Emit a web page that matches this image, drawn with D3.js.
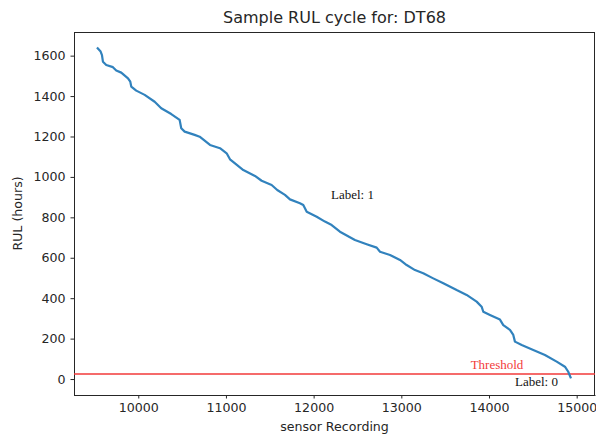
<!DOCTYPE html>
<html>
<head>
<meta charset="utf-8">
<script src="https://cdn.jsdelivr.net/npm/d3@7"></script>
<style>
  body { margin: 0; background: #fff; }
  svg { display: block; }
  .axis text { font-family: "DejaVu Sans", sans-serif; font-size: 12.6px; fill: #262626; }
  .axis path, .axis line { stroke: #262626; }
</style>
</head>
<body>
<div id="chart"></div>
<script>
"use strict"
// sensor recording index (x) and remaining useful life in hours (y)
var recording = [9529, 9571, 9586, 9597, 9635, 9711, 9749, 9806, 9883, 9909, 9920, 9977,
  10073, 10187, 10262, 10376, 10472, 10490, 10529, 10643, 10700, 10818, 10932, 11008,
  11046, 11103, 11198, 11331, 11407, 11521, 11585, 11673, 11730, 11844, 11882, 11921,
  12035, 12129, 12206, 12300, 12471, 12605, 12719, 12757, 12871, 12985, 13061, 13156,
  13250, 13364, 13479, 13631, 13745, 13859, 13916, 13935, 14011, 14125, 14163, 14239,
  14277, 14296, 14373, 14505, 14638, 14772, 14866, 14904, 14935];
var rul = [1640, 1620, 1603, 1570, 1554, 1543, 1526, 1516, 1488, 1471, 1447, 1427,
  1406, 1372, 1340, 1311, 1282, 1241, 1224, 1208, 1199, 1158, 1142, 1117,
  1087, 1067, 1034, 1005, 981, 960, 935, 911, 889, 870, 861, 828,
  803, 779, 762, 729, 688, 667, 650, 630, 614, 589, 564, 539,
  523, 498, 474, 440, 416, 383, 358, 333, 317, 294, 267, 243,
  218, 185, 168, 144, 119, 86, 61, 36, 3];
var xTicks = [10000, 11000, 12000, 13000, 14000, 15000];
var yTicks = [0, 200, 400, 600, 800, 1000, 1200, 1400, 1600];
var threshold = 25;
var title = "Sample RUL cycle for: DT68";

var width = 596, height = 437;
var margin = {top: 32, right: 1, bottom: 42, left: 74};
var drawWidth = width - margin.left - margin.right;
var drawHeight = height - margin.top - margin.bottom;

var xScale = d3.scaleLinear().domain([9267, 15209]).range([0, drawWidth]);
var yScale = d3.scaleLinear().domain([-79, 1717]).range([drawHeight, 0]);

var data = recording.map(function(d, i) { return [d, rul[i]]; });

var svg = d3.select("#chart").append("svg")
    .attr("width", width)
    .attr("height", height);

svg.append("text")
    .attr("x", margin.left + drawWidth / 2)
    .attr("y", 23)
    .attr("text-anchor", "middle")
    .style("font-family", "DejaVu Sans, sans-serif")
    .style("font-size", "16px")
    .style("fill", "#262626")
    .text(title);

var g = svg.append("g")
    .attr("transform", "translate(" + margin.left + "," + margin.top + ")");

// x axis
g.append("g").attr("class", "axis")
    .attr("transform", "translate(0," + drawHeight + ")")
    .call(d3.axisBottom(xScale).tickValues(xTicks).tickSize(3.5).tickPadding(5).tickSizeOuter(0).tickFormat(d3.format("d")));

// y axis
g.append("g").attr("class", "axis")
    .call(d3.axisLeft(yScale).tickValues(yTicks).tickSize(3.5).tickPadding(5).tickSizeOuter(0).tickFormat(d3.format("d")));

// frame
g.append("rect")
    .attr("x", 0.5).attr("y", 0.5)
    .attr("width", drawWidth - 1).attr("height", drawHeight)
    .attr("fill", "none")
    .attr("stroke", "#262626");

// threshold
g.append("line")
    .attr("x1", 0).attr("x2", drawWidth)
    .attr("y1", yScale(threshold)).attr("y2", yScale(threshold))
    .attr("stroke", "#f23a3a")
    .attr("stroke-width", 1.5);

g.append("path")
    .datum(data)
    .attr("fill", "none")
    .attr("stroke", "#3182bd")
    .attr("stroke-width", 2.2)
    .attr("stroke-linejoin", "round")
    .attr("d", d3.line().x(function(d) { return xScale(d[0]); }).y(function(d) { return yScale(d[1]); }));

var serif = "Liberation Serif, Times New Roman, serif";
g.append("text")
    .attr("x", xScale(13791)).attr("y", yScale(48))
    .style("font-family", serif).style("font-size", "13px").style("fill", "#f23a3a")
    .text("Threshold");
g.append("text")
    .attr("x", xScale(14296)).attr("y", yScale(-35))
    .style("font-family", serif).style("font-size", "13px").style("fill", "#111")
    .text("Label: 0");
g.append("text")
    .attr("x", xScale(12198)).attr("y", yScale(891))
    .style("font-family", serif).style("font-size", "13px").style("fill", "#111")
    .text("Label: 1");

// axis titles
svg.append("text")
    .attr("x", margin.left + drawWidth / 2)
    .attr("y", 431)
    .attr("text-anchor", "middle")
    .style("font-family", "DejaVu Sans, sans-serif")
    .style("font-size", "12.6px")
    .style("fill", "#262626")
    .text("sensor Recording");

svg.append("text")
    .attr("transform", "translate(22," + (margin.top + drawHeight / 2) + ") rotate(-90)")
    .attr("text-anchor", "middle")
    .style("font-family", "DejaVu Sans, sans-serif")
    .style("font-size", "12.6px")
    .style("fill", "#262626")
    .text("RUL (hours)");
</script>
</body>
</html>
